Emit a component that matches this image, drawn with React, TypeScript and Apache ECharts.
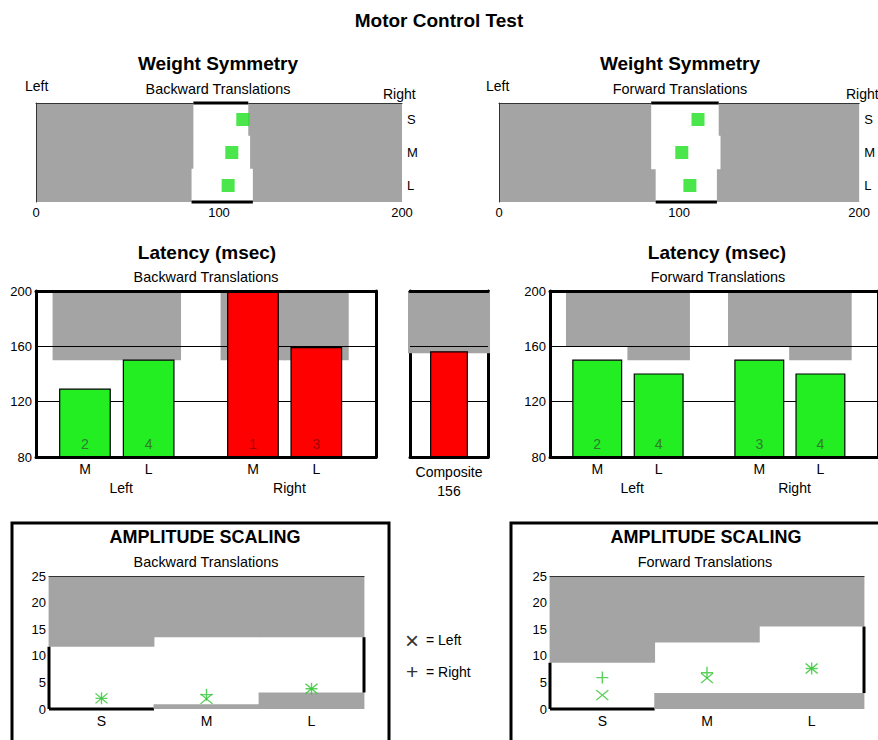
import React, { useEffect, useRef } from 'react';
import * as echarts from 'echarts';

const FONT = '"Liberation Sans", Arial, sans-serif';
const GRAY = '#a4a4a4';
const BAR_GREEN = '#22ee22';
const BAR_RED = '#ff0000';
const SQ_GREEN = '#1ee01e';
const MARK_GREEN = '#33c433';

// ---------- Weight Symmetry ----------
const wsRows = ['S', 'M', 'L'];
const wsBackValues = [113, 107, 105];
const wsBackLow = [86, 86, 85];
const wsBackHigh = [116, 117, 118.5];
const wsFwdValues = [110.5, 101.5, 106];
const wsFwdLow = [84.5, 84.5, 87];
const wsFwdHigh = [122, 123, 121];

// ---------- Latency (msec) ----------
const latCats = ['M', 'L', 'M', 'L'];
const latGroups = ['Left', 'Right'];
const latSlots = [0.765, 1.76, 3.39, 4.38];
const latGroupLabelPos = [1.33, 3.96];
const latBackValues = [129, 150, 200, 159];
const latBackLimits = [150, 150, 150, 150];
const latBackCounts = [2, 4, 1, 3];
const latFwdValues = [150, 140, 150, 140];
const latFwdLimits = [160, 150, 160, 150];
const latFwdCounts = [2, 4, 3, 4];
const compositeCats = ['Composite'];
const compositeBackValue = [156];
const compositeBackLimit = [155];

// ---------- Amplitude scaling ----------
const ampCats = ['S', 'M', 'L'];
const ampBackLeft = [2, 1.9, 3.8];
const ampBackRight = [2, 2.7, 3.8];
const ampBackUpper = [11.7, 13.5, 13.5];
const ampBackLower = [0, 0.9, 3.1];
const ampFwdLeft = [2.6, 5.8, 7.6];
const ampFwdRight = [5.9, 6.8, 7.6];
const ampFwdUpper = [8.7, 12.5, 15.5];
const ampFwdLower = [0, 3, 3];

const LAT_MIN = 80;
const LAT_MAX = 200;
const LAT_XMAX = 5.3125;
const AMP_MIN = 0;
const AMP_MAX = 25;

const X_PATH = 'path://M0,0L10,10M10,0L0,10';
const PLUS_PATH = 'path://M5,0L5,10M0,5L10,5';

const nearest = (arr: number[], v: number) => {
  let bi = 0;
  arr.forEach((a, i) => {
    if (Math.abs(a - v) < Math.abs(arr[bi] - v)) bi = i;
  });
  return bi;
};

const wsBandRender = (params: any, api: any) => {
  const lo = api.value(0);
  const hi = api.value(1);
  const row = api.value(2);
  const p0 = api.coord([lo, row]);
  const p1 = api.coord([hi, row]);
  const h = api.size([0, 1])[1];
  const top = p0[1] - h / 2;
  const children: any[] = [
    { type: 'rect', shape: { x: p0[0], y: top - 0.3, width: p1[0] - p0[0], height: h + 0.6 }, style: { fill: '#fff' } },
  ];
  if (row === 0) {
    children.push({ type: 'line', shape: { x1: p0[0], y1: top, x2: p1[0], y2: top }, style: { stroke: '#000', lineWidth: 3 } });
  }
  if (row === wsRows.length - 1) {
    children.push({ type: 'line', shape: { x1: p0[0], y1: top + h, x2: p1[0], y2: top + h }, style: { stroke: '#000', lineWidth: 3 } });
  }
  return { type: 'group', children };
};

const grayBandRender = (yMax: number, widthFactor: number, pad: number) => (params: any, api: any) => {
  const x = api.value(0);
  const lim = api.value(1);
  const bw = api.size([1, 0])[0] * widthFactor;
  const pt = api.coord([x, yMax]);
  const pb = api.coord([x, lim]);
  return {
    type: 'rect',
    shape: { x: pt[0] - bw / 2 - pad, y: pt[1], width: bw + 2 * pad, height: pb[1] - pt[1] },
    style: { fill: GRAY },
  };
};

const latBarRender = (yMin: number, widthFactor: number) => (params: any, api: any) => {
  const x = api.value(0);
  const v = api.value(1);
  const lim = api.value(2);
  const cnt = api.value(3);
  const bw = api.size([1, 0])[0] * widthFactor;
  const pt = api.coord([x, v]);
  const pb = api.coord([x, yMin]);
  const over = v > lim;
  const children: any[] = [
    {
      type: 'rect',
      shape: { x: pt[0] - bw / 2, y: pt[1], width: bw, height: pb[1] - pt[1] },
      style: { fill: over ? BAR_RED : BAR_GREEN, stroke: '#000', lineWidth: 1.2 },
    },
  ];
  if (Number.isFinite(cnt)) {
    children.push({
      type: 'text',
      x: pt[0],
      y: pb[1] - 13,
      style: {
        text: String(cnt),
        fill: over ? '#a30000' : '#2f7d2f',
        font: `14px ${FONT}`,
        align: 'center',
        verticalAlign: 'middle',
        textAlign: 'center',
        textVerticalAlign: 'middle',
      },
    });
  }
  return { type: 'group', children };
};

const ampRender = (n: number) => (params: any, api: any) => {
  const i = api.value(0);
  const up = api.value(1);
  const lo = api.value(2);
  const bw = api.size([1, 0])[0];
  const cTop = api.coord([i, AMP_MAX]);
  const cUp = api.coord([i, up]);
  const cLo = api.coord([i, lo]);
  const cMin = api.coord([i, AMP_MIN]);
  const x0 = cTop[0] - bw / 2;
  const x1 = cTop[0] + bw / 2;
  const children: any[] = [
    { type: 'rect', shape: { x: x0 - 0.4, y: cTop[1], width: bw + 0.8, height: cUp[1] - cTop[1] }, style: { fill: GRAY } },
  ];
  if (lo > AMP_MIN) {
    children.push({ type: 'rect', shape: { x: x0 - 0.4, y: cLo[1], width: bw + 0.8, height: cMin[1] - cLo[1] }, style: { fill: GRAY } });
  }
  const border = { stroke: '#000', lineWidth: 3 };
  if (i === 0) children.push({ type: 'line', shape: { x1: x0, y1: cUp[1], x2: x0, y2: cLo[1] }, style: border });
  if (i === n - 1) children.push({ type: 'line', shape: { x1: x1, y1: cUp[1], x2: x1, y2: cLo[1] }, style: border });
  if (lo <= AMP_MIN) children.push({ type: 'line', shape: { x1: x0, y1: cMin[1], x2: x1, y2: cMin[1] }, style: border });
  return { type: 'group', children };
};

function buildOption() {
  const grid: any[] = [];
  const xAxis: any[] = [];
  const yAxis: any[] = [];
  const series: any[] = [];

  const addX = (o: any) => { xAxis.push(o); return xAxis.length - 1; };
  const addY = (o: any) => { yAxis.push(o); return yAxis.length - 1; };
  const hidden = {
    axisLine: { show: false },
    axisTick: { show: false },
    axisLabel: { show: false },
    splitLine: { show: false },
  };
  const lbl = (size: number) => ({ fontSize: size, color: '#000', fontFamily: FONT });
  const thick = { show: true, onZero: false, lineStyle: { color: '#000', width: 3 } };
  const thin = { show: true, onZero: false, lineStyle: { color: '#333', width: 1 } };

  // Weight symmetry panels
  const wsPanel = (rect: any, values: number[], low: number[], high: number[]) => {
    const gi = grid.length;
    grid.push({ ...rect, show: true, backgroundColor: GRAY, borderWidth: 0 });
    const xb = addX({ gridIndex: gi, type: 'value', min: 0, max: 200, interval: 100, position: 'bottom', ...hidden, axisLabel: { ...lbl(13), margin: 4 } });
    addX({ gridIndex: gi, type: 'value', min: 0, max: 200, position: 'top', ...hidden, axisLine: thin, z: 1 });
    const yr = addY({ gridIndex: gi, type: 'category', data: wsRows, inverse: true, position: 'right', ...hidden, axisLabel: { ...lbl(13), margin: 5 } });
    addY({ gridIndex: gi, type: 'category', data: wsRows, inverse: true, position: 'left', ...hidden, axisLine: thin, z: 1 });
    series.push({
      type: 'custom', xAxisIndex: xb, yAxisIndex: yr, encode: { x: [0, 1], y: 2 },
      data: wsRows.map((_, i) => [low[i], high[i], i]), renderItem: wsBandRender, z: 2,
    });
    series.push({
      type: 'scatter', xAxisIndex: xb, yAxisIndex: yr, data: values.map((v, i) => [v, i]),
      symbol: 'rect', symbolSize: 13, itemStyle: { color: SQ_GREEN }, z: 3,
    });
  };

  // Latency panels
  const latPanel = (rect: any, values: number[], limits: number[], counts: number[]) => {
    const gi = grid.length;
    grid.push({ ...rect });
    const xm = addX({
      gridIndex: gi, type: 'value', min: 0, max: LAT_XMAX, position: 'bottom', ...hidden, axisLine: thick,
      axisLabel: { ...lbl(14), margin: 5, customValues: latSlots, formatter: (v: number) => latCats[nearest(latSlots, v)] }, z: 5,
    });
    addX({
      gridIndex: gi, type: 'value', min: 0, max: LAT_XMAX, position: 'bottom', offset: 19, ...hidden,
      axisLabel: { ...lbl(14), margin: 5, customValues: latGroupLabelPos, formatter: (v: number) => latGroups[nearest(latGroupLabelPos, v)] },
    });
    addX({ gridIndex: gi, type: 'value', min: 0, max: LAT_XMAX, position: 'top', ...hidden, axisLine: thick, z: 5 });
    const ym = addY({
      gridIndex: gi, type: 'value', min: LAT_MIN, max: LAT_MAX, interval: 40, position: 'left', ...hidden, axisLine: thick,
      axisLabel: { ...lbl(13), margin: 4 }, splitLine: { show: true, lineStyle: { color: '#000', width: 1 } }, z: 2,
    });
    addY({ gridIndex: gi, type: 'value', min: LAT_MIN, max: LAT_MAX, position: 'right', ...hidden, axisLine: thick, z: 5 });
    series.push({
      type: 'custom', xAxisIndex: xm, yAxisIndex: ym, encode: { x: 0, y: 1 },
      data: latSlots.map((x, i) => [x, limits[i]]), renderItem: grayBandRender(LAT_MAX, 1, 0.4), z: 1,
    });
    series.push({
      type: 'custom', xAxisIndex: xm, yAxisIndex: ym, encode: { x: 0, y: 1 },
      data: latSlots.map((x, i) => [x, values[i], limits[i], counts[i]]), renderItem: latBarRender(LAT_MIN, 0.79), z: 3,
    });
  };

  // Composite panel
  const compPanel = (rect: any) => {
    const gi = grid.length;
    grid.push({ ...rect });
    const xc = addX({
      gridIndex: gi, type: 'category', data: compositeCats, position: 'bottom', ...hidden, axisLine: thick,
      axisLabel: { ...lbl(14), margin: 5, lineHeight: 19, formatter: (name: string, idx: number) => `${name}\n${compositeBackValue[idx]}` }, z: 5,
    });
    addX({ gridIndex: gi, type: 'category', data: compositeCats, position: 'top', ...hidden, axisLine: thick, z: 5 });
    const yc = addY({
      gridIndex: gi, type: 'value', min: LAT_MIN, max: LAT_MAX, interval: 40, position: 'left', ...hidden,
      splitLine: { show: true, lineStyle: { color: '#000', width: 1 } }, z: 2,
    });
    addY({ gridIndex: gi, type: 'value', min: LAT_MIN, max: LAT_MAX, position: 'left', ...hidden, axisLine: thick, z: 0 });
    addY({ gridIndex: gi, type: 'value', min: LAT_MIN, max: LAT_MAX, position: 'right', ...hidden, axisLine: thick, z: 0 });
    series.push({
      type: 'custom', xAxisIndex: xc, yAxisIndex: yc, encode: { x: 0, y: 1 },
      data: compositeCats.map((_, i) => [i, compositeBackLimit[i]]), renderItem: grayBandRender(LAT_MAX, 1, 2), z: 1,
    });
    series.push({
      type: 'custom', xAxisIndex: xc, yAxisIndex: yc, encode: { x: 0, y: 1 },
      data: compositeCats.map((_, i) => [i, compositeBackValue[i], compositeBackLimit[i], NaN]), renderItem: latBarRender(LAT_MIN, 0.47), z: 3,
    });
  };

  // Amplitude panels
  const ampPanel = (rect: any, left: number[], right: number[], upper: number[], lower: number[]) => {
    const gi = grid.length;
    grid.push({ ...rect });
    const xa = addX({ gridIndex: gi, type: 'category', data: ampCats, position: 'bottom', ...hidden, axisLabel: { ...lbl(14), margin: 5 } });
    addX({ gridIndex: gi, type: 'category', data: ampCats, position: 'top', ...hidden, axisLine: thin, z: 5 });
    const ya = addY({ gridIndex: gi, type: 'value', min: AMP_MIN, max: AMP_MAX, interval: 5, position: 'left', ...hidden, axisLabel: { ...lbl(13), margin: 3 } });
    series.push({
      type: 'custom', xAxisIndex: xa, yAxisIndex: ya, encode: { x: 0, y: [1, 2] },
      data: ampCats.map((_, i) => [i, upper[i], lower[i]]), renderItem: ampRender(ampCats.length), z: 2,
    });
    const markStyle = { color: 'transparent', borderColor: MARK_GREEN, borderWidth: 1.4 };
    series.push({
      type: 'scatter', xAxisIndex: xa, yAxisIndex: ya, data: left.map((v, i) => [i, v]),
      symbol: X_PATH, symbolSize: [12, 10], itemStyle: markStyle, z: 3,
    });
    series.push({
      type: 'scatter', xAxisIndex: xa, yAxisIndex: ya, data: right.map((v, i) => [i, v]),
      symbol: PLUS_PATH, symbolSize: 12, itemStyle: markStyle, z: 3,
    });
  };

  wsPanel({ left: 36, top: 103, width: 366, height: 99 }, wsBackValues, wsBackLow, wsBackHigh);
  wsPanel({ left: 499, top: 103, width: 364, height: 99 }, wsFwdValues, wsFwdLow, wsFwdHigh);
  latPanel({ left: 36, top: 291, width: 340, height: 166 }, latBackValues, latBackLimits, latBackCounts);
  compPanel({ left: 410, top: 291, width: 78, height: 166 });
  latPanel({ left: 550, top: 291, width: 340, height: 166 }, latFwdValues, latFwdLimits, latFwdCounts);
  ampPanel({ left: 49, top: 576, width: 315, height: 133 }, ampBackLeft, ampBackRight, ampBackUpper, ampBackLower);
  ampPanel({ left: 550, top: 576, width: 314, height: 133 }, ampFwdLeft, ampFwdRight, ampFwdUpper, ampFwdLower);

  const T = (text: string, x: number, y: number, size: number, bold = false, align = 'center', fill = '#000') => ({
    type: 'text', x, y, z: 20,
    style: {
      text, fill, font: `${bold ? 'bold ' : ''}${size}px ${FONT}`,
      align, verticalAlign: 'middle', textAlign: align, textVerticalAlign: 'middle',
    },
  });

  const graphic: any[] = [
    { type: 'rect', z: 0, shape: { x: 12, y: 523, width: 377, height: 260 }, style: { fill: 'none', stroke: '#000', lineWidth: 3 } },
    { type: 'rect', z: 0, shape: { x: 511, y: 523, width: 420, height: 260 }, style: { fill: 'none', stroke: '#000', lineWidth: 3 } },
    T('Motor Control Test', 439, 20, 19, true),
    T('Weight Symmetry', 218, 63, 19, true),
    T('Weight Symmetry', 680, 63, 19, true),
    T('Backward Translations', 218, 89, 14.4),
    T('Forward Translations', 680, 89, 14.4),
    T('Left', 25, 86, 14, false, 'left'),
    T('Left', 486, 86, 14, false, 'left'),
    T('Right', 383, 94, 14, false, 'left'),
    T('Right', 846, 94, 14, false, 'left'),
    T('Latency (msec)', 207, 252, 19, true),
    T('Latency (msec)', 717, 252, 19, true),
    T('Backward Translations', 206, 277, 14.4),
    T('Forward Translations', 718, 277, 14.4),
    T('AMPLITUDE SCALING', 205, 537, 18, true),
    T('AMPLITUDE SCALING', 706, 537, 18, true),
    T('Backward Translations', 206, 562, 14.4),
    T('Forward Translations', 705, 562, 14.4),
    T('\u00d7', 412, 640, 24, false, 'center', '#333'),
    T('+', 412, 671, 21, false, 'center', '#333'),
    T('= Left', 426, 640, 14, false, 'left'),
    T('= Right', 426, 672, 14, false, 'left'),
  ];

  return {
    animation: false,
    backgroundColor: '#fff',
    textStyle: { fontFamily: FONT },
    grid,
    xAxis,
    yAxis,
    series,
    graphic,
  };
}

export default function App() {
  const ref = useRef<HTMLDivElement>(null);
  useEffect(() => {
    if (!ref.current) return;
    const chart = echarts.init(ref.current, null, { renderer: 'svg' });
    chart.setOption(buildOption() as any);
    return () => chart.dispose();
  }, []);
  return (
    <div
      ref={ref}
      style={{ position: 'absolute', left: 0, top: 0, width: 878, height: 740, background: '#fff' }}
    />
  );
}
